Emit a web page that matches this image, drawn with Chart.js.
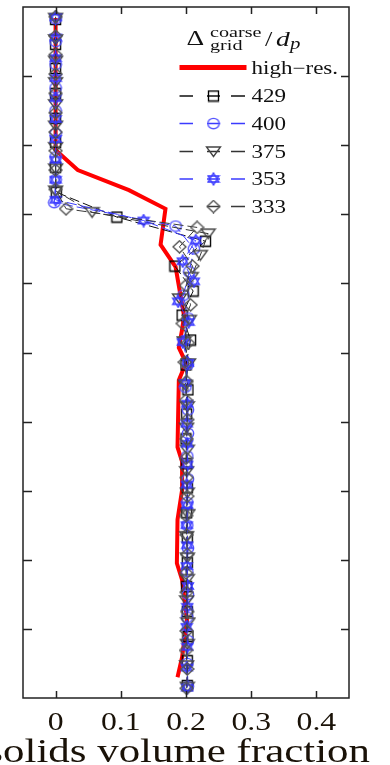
<!DOCTYPE html>
<html><head><meta charset="utf-8">
<script src="https://cdn.jsdelivr.net/npm/chart.js@4/dist/chart.umd.min.js"></script>
<style>html,body{margin:0;padding:0;background:#fff}#wrap{position:relative;width:390px;height:765px}</style>
</head><body><div id="wrap"><canvas id="c"></canvas></div>
<script>
// ---------- data ----------
const xTickValues = [0, 0.1, 0.2, 0.3, 0.4];
const xTickLabels = ['0', '0.1', '0.2', '0.3', '0.4'];
const yTickValues = [1, 2, 3, 4, 5, 6, 7, 8, 9];
const xAxisTitle = 'solids volume fraction';
const seriesNames = ['high\u2212res.', '429', '400', '375', '353', '333'];

const hiResX = [0, 0, 0.034, 0.1125, 0.1685, 0.161, 0.184, 0.197, 0.194, 0.189, 0.200, 0.189, 0.187, 0.194, 0.194, 0.187, 0.186, 0.194, 0.2015, 0.194, 0.187];
const hiResY = [9.84, 7.93, 7.64, 7.35, 7.08, 6.56, 6.24, 5.53, 5.33, 5.07, 4.85, 4.60, 3.63, 3.42, 3.01, 2.58, 1.95, 1.71, 1.13, 0.59, 0.30];

const y429 = [0.18,0.54,0.89,1.25,1.61,1.96,2.32,2.68,3.04,3.39,3.75,4.11,4.46,4.82,5.18,5.54,5.89,6.25,6.61,6.96,7.32,7.68,8.04,8.39,8.75,9.11,9.46,9.82];
const x429 = [0.202,0.202,0.203,0.202,0.201,0.202,0.202,0.201,0.202,0.201,0.200,0.201,0.203,0.200,0.207,0.194,0.211,0.183,0.230,0.094,0.001,0,0,0,0,0,0,0];

const y400 = [0.17,0.50,0.83,1.17,1.50,1.83,2.17,2.50,2.83,3.17,3.50,3.83,4.17,4.50,4.83,5.17,5.50,5.83,6.17,6.50,6.83,7.17,7.50,7.83,8.17,8.50,8.83,9.17,9.50,9.83];
const x400 = [0.203,0.202,0.203,0.202,0.203,0.202,0.203,0.202,0.202,0.203,0.202,0.203,0.203,0.199,0.203,0.197,0.203,0.196,0.205,0.212,0.184,-0.002,0,0,0,0,0,0,0,0];

const y375 = [0.16,0.47,0.78,1.09,1.41,1.72,2.03,2.34,2.66,2.97,3.28,3.59,3.91,4.22,4.53,4.84,5.16,5.47,5.78,6.09,6.41,6.72,7.03,7.34,7.66,7.97,8.28,8.59,8.91,9.22,9.53,9.84];
const x375 = [0.202,0.201,0.202,0.203,0.201,0.202,0.202,0.201,0.203,0.202,0.201,0.202,0.201,0.202,0.199,0.204,0.197,0.205,0.190,0.208,0.222,0.234,0.056,0,0,0,0,0,0,0,0,0];

const y353 = [0.15,0.44,0.74,1.03,1.32,1.62,1.91,2.21,2.50,2.79,3.09,3.38,3.68,3.97,4.26,4.56,4.85,5.15,5.44,5.74,6.03,6.32,6.62,6.91,7.21,7.50,7.79,8.09,8.38,8.68,8.97,9.26,9.56,9.85];
const x353 = [0.202,0.201,0.202,0.201,0.202,0.203,0.201,0.202,0.201,0.202,0.201,0.202,0.202,0.201,0.202,0.199,0.203,0.195,0.204,0.188,0.212,0.195,0.215,0.135,0,0,0,0,0,0,0,0,0,0];

const y333 = [0.14,0.42,0.69,0.97,1.25,1.53,1.81,2.08,2.36,2.64,2.92,3.19,3.47,3.75,4.03,4.31,4.58,4.86,5.14,5.42,5.69,5.97,6.25,6.53,6.81,7.08,7.36,7.64,7.92,8.19,8.47,8.75,9.03,9.31,9.58,9.86];
const x333 = [0.201,0.202,0.200,0.201,0.202,0.201,0.200,0.202,0.201,0.200,0.202,0.201,0.200,0.201,0.202,0.200,0.201,0.198,0.203,0.195,0.207,0.200,0.210,0.190,0.217,0.016,0,0,0,0,0,0,0,0,0,0];

// ---------- marker images ----------
function makeMarker(kind, color) {
  const c = document.createElement('canvas');
  const W = {sq:13, ci:14, tri:17, hex:14, dia:15}[kind];
  const H = {sq:13, ci:13, tri:13, hex:14, dia:14}[kind];
  c.width = W; c.height = H;
  const g = c.getContext('2d');
  g.strokeStyle = color; g.lineWidth = 1.35;
  g.beginPath();
  if (kind === 'sq') { g.rect(1.5, 1.5, 10, 10); }
  else if (kind === 'ci') { g.ellipse(7, 6.5, 5.7, 5.2, 0, 0, Math.PI * 2); }
  else if (kind === 'tri') { g.moveTo(1.5, 2); g.lineTo(15.5, 2); g.lineTo(8.5, 11.5); g.closePath(); }
  else if (kind === 'dia') { g.moveTo(7.5, 0.9); g.lineTo(14, 7); g.lineTo(7.5, 13.1); g.lineTo(1, 7); g.closePath(); }
  else if (kind === 'hex') {
    const cx = 7, cy = 7, r = 6;
    for (const off of [-90, 90]) {
      for (let k = 0; k < 3; k++) {
        const a = (off + k * 120) * Math.PI / 180;
        const px = cx + r * 1.05 * Math.cos(a), py = cy + r * Math.sin(a);
        if (k === 0) g.moveTo(px, py); else g.lineTo(px, py);
      }
      g.closePath();
    }
  }
  g.stroke();
  return c;
}
const BLUE_LINE = '#3b3bff';
const styles = [
  {kind:'sq',  mcol:'#000000', lcol:'#111111'},
  {kind:'ci',  mcol:'#5555ff', lcol:BLUE_LINE},
  {kind:'tri', mcol:'#444444', lcol:'#333333'},
  {kind:'hex', mcol:'#3535ff', lcol:BLUE_LINE},
  {kind:'dia', mcol:'#555555', lcol:'#3a3a3a'}
];
styles.forEach(s => s.img = makeMarker(s.kind, s.mcol));

const toPts = (xs, ys) => xs.map((x, i) => ({x: x, y: ys[i]}));
const seriesX = [x429, x400, x375, x353, x333];
const seriesY = [y429, y400, y375, y353, y333];

const datasets = [{
  label: seriesNames[0], data: toPts(hiResX, hiResY), showLine: true,
  borderColor: '#ff0000', borderWidth: 4, pointRadius: 0, order: 10, tension: 0
}];
for (let i = 0; i < 5; i++) {
  datasets.push({
    label: seriesNames[i + 1], data: toPts(seriesX[i], seriesY[i]), showLine: true,
    borderColor: styles[i].lcol, borderWidth: 1, borderDash: [10, 4],
    pointStyle: styles[i].img, pointRadius: 5, order: 5 - i
  });
}

function sText(ctx, txt, x, y, font, sx, align, color) {
  ctx.save();
  ctx.font = font; ctx.fillStyle = color || '#111';
  ctx.textAlign = align || 'left'; ctx.textBaseline = 'alphabetic';
  ctx.translate(x, y); ctx.scale(sx, 1);
  ctx.fillText(txt, 0, 0);
  ctx.restore();
}

const decor = {
  id: 'decor',
  afterDraw(chart) {
    const ctx = chart.ctx, a = chart.chartArea;
    const xs = chart.scales.x, ys = chart.scales.y;
    ctx.save();
    ctx.strokeStyle = '#222'; ctx.lineWidth = 1.5;
    ctx.strokeRect(a.left, a.top, a.right - a.left, a.bottom - a.top);
    ctx.beginPath();
    xTickValues.forEach(v => {
      const p = Math.round(xs.getPixelForValue(v)) + 0.5;
      ctx.moveTo(p, a.bottom); ctx.lineTo(p, a.bottom - 7);
      ctx.moveTo(p, a.top); ctx.lineTo(p, a.top + 7);
    });
    yTickValues.forEach(v => {
      const p = Math.round(ys.getPixelForValue(v)) + 0.5;
      ctx.moveTo(a.left, p); ctx.lineTo(a.left + 9, p);
      ctx.moveTo(a.right, p); ctx.lineTo(a.right - 8, p);
    });
    ctx.stroke();
    ctx.restore();
    // tick labels
    const SERIF = '"Liberation Serif", "DejaVu Serif", serif';
    xTickValues.forEach((v, i) => {
      sText(ctx, xTickLabels[i], xs.getPixelForValue(v), 730, '26px ' + SERIF, 1.22, 'center', '#1a1208');
    });
    sText(ctx, xAxisTitle, 370, 762, '33px ' + SERIF, 1.3, 'right', '#1a1208');
    // legend title
    sText(ctx, '\u0394', 186.5, 45, '22px ' + SERIF, 1.25, 'left', '#111');
    sText(ctx, 'coarse', 210, 37, '15.5px ' + SERIF, 1.3, 'left', '#111');
    sText(ctx, 'grid', 210, 49.5, '15.5px ' + SERIF, 1.3, 'left', '#111');
    sText(ctx, '/', 265, 46, '22px ' + SERIF, 1.2, 'left', '#111');
    sText(ctx, 'd', 276, 45.5, 'italic 22px ' + SERIF, 1.25, 'left', '#111');
    sText(ctx, 'p', 290, 48.5, 'italic 16px ' + SERIF, 1.3, 'left', '#111');
    // legend red line
    ctx.save();
    ctx.strokeStyle = '#ff0000'; ctx.lineWidth = 5;
    ctx.beginPath(); ctx.moveTo(179.5, 67.5); ctx.lineTo(246.5, 67.5); ctx.stroke();
    ctx.restore();
    sText(ctx, seriesNames[0], 251.5, 74, '18px ' + SERIF, 1.28, 'left', '#111');
    const rows = [96, 123.5, 151.5, 179, 206.5];
    rows.forEach((cy, i) => {
      const s = styles[i];
      ctx.save();
      ctx.strokeStyle = s.lcol; ctx.lineWidth = 1.4;
      ctx.beginPath();
      ctx.moveTo(179.5, cy); ctx.lineTo(193, cy);
      ctx.moveTo(207, cy); ctx.lineTo(220, cy);
      ctx.moveTo(231, cy); ctx.lineTo(245, cy);
      ctx.stroke();
      ctx.drawImage(s.img, 213.5 - s.img.width / 2, cy - s.img.height / 2);
      ctx.restore();
      sText(ctx, seriesNames[i + 1], 251.5, cy + 6, '18px ' + SERIF, 1.28, 'left', '#111');
    });
  }
};

new Chart(document.getElementById('c'), {
  type: 'scatter',
  data: { datasets: datasets },
  options: {
    responsive: true, maintainAspectRatio: false, animation: false, events: [],
    layout: { padding: { left: 23, top: 7, right: 41, bottom: 67 } },
    scales: {
      x: { type: 'linear', min: -0.05, max: 0.45, display: false },
      y: { type: 'linear', min: 0, max: 10, display: false }
    },
    plugins: { legend: { display: false }, tooltip: { enabled: false } }
  },
  plugins: [decor]
});
</script>
</body></html>
